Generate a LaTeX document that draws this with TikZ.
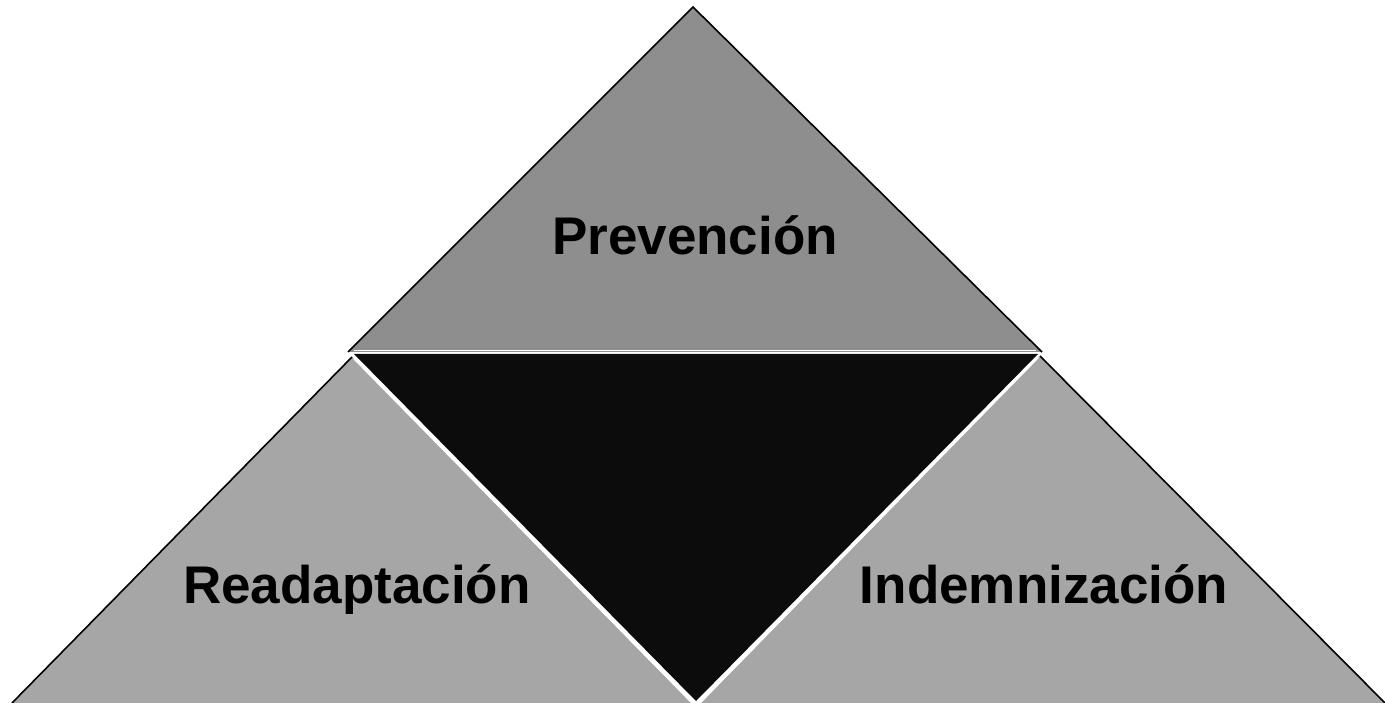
\documentclass[tikz,border=0pt]{standalone}
\usepackage{fontspec}
\setmainfont{Liberation Sans}
\usetikzlibrary{calc}
\definecolor{topgray}{HTML}{8E8E8E}
\definecolor{sidegray}{HTML}{A6A6A6}
\definecolor{darkfill}{HTML}{0C0C0C}
\tikzset{
  sep/.style={draw=white, line width=1.2pt},
  edge/.style={draw=black, line width=1.6pt},
  label/.style={font=\fontsize{53}{60}\selectfont\bfseries, text=black, inner sep=0pt, anchor=base}
}
\begin{document}
\begin{tikzpicture}[x=1pt,y=-1pt]
\useasboundingbox (0,0) rectangle (1385,703);
\fill[white] (0,0) rectangle (1385,703);
% key points
\coordinate (apex) at (693,7);
\coordinate (ml) at (348,352);
\coordinate (mr) at (1042,352);
\coordinate (ll) at (12,703);
\coordinate (lr) at (1385,703);
\coordinate (lt) at (352,357);
\coordinate (lb) at (691,703);
\coordinate (rt) at (1040,356);
\coordinate (rb) at (701,703);
\coordinate (dl) at (354,354);
\coordinate (dr) at (1038,354);
\coordinate (db) at (696,701);
% dark centre
\fill[darkfill] (dl) -- (dr) -- (db) -- cycle;
% top triangle
\fill[topgray] (apex) -- (mr) -- (ml) -- cycle;
\draw[sep] ($(ml)+(6,-1.5)$) -- ($(mr)+(-6,-1.5)$);
\draw[edge] (ml) -- (apex) -- (mr);
% lower left
\fill[sidegray] (lt) -- (lb) -- (ll) -- cycle;
\draw[sep] ($(lt)+(2,2)$) -- ($(lb)+(0,-1)$);
\draw[edge] (lt) -- (ll);
% lower right
\fill[sidegray] (rt) -- (lr) -- (rb) -- cycle;
\draw[sep] ($(rt)+(-2,2)$) -- ($(rb)+(0,-1)$);
\draw[edge] (rt) -- (lr);
% labels
\node[label] (prev) at (695,255) {Prevención};
\node[label] (read) at (357,603) {Readaptación};
\node[label] (indem) at (1044,603) {Indemnización};
\end{tikzpicture}
\end{document}
